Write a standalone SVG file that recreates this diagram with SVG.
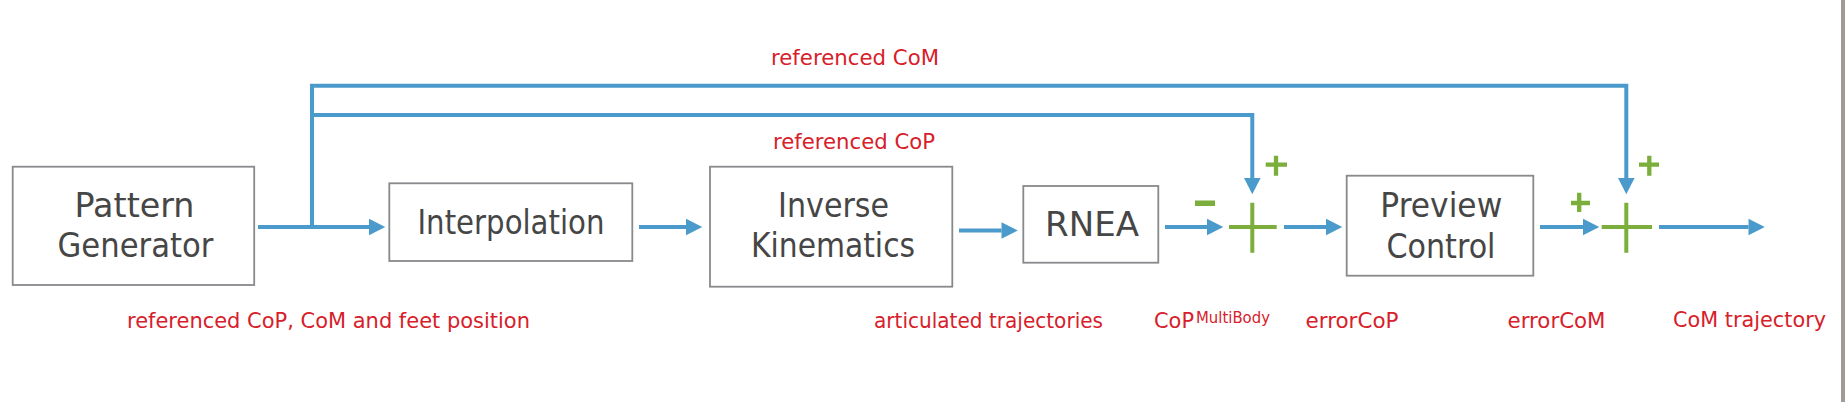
<svg xmlns="http://www.w3.org/2000/svg" width="1845" height="402" viewBox="0 0 1845 402">
<style>
.box{fill:#ffffff;stroke:#87898c;stroke-width:1.8}
.nt{font-family:"DejaVu Sans",sans-serif;font-size:33px;fill:#464646;text-anchor:middle}
.lb{font-family:"DejaVu Sans",sans-serif;font-size:22px;fill:#d7202a}
.sup{font-family:"DejaVu Sans",sans-serif;font-size:16px;fill:#d7202a}
.con{fill:none;stroke:#4a9bcb;stroke-width:4;stroke-linejoin:miter}
.sum{stroke:#7bae3a;stroke-width:4;fill:none}
.sgn{stroke:#7bae3a;stroke-width:4.3;fill:none}
</style>
<defs>
<marker id="ah" markerUnits="userSpaceOnUse" markerWidth="17" markerHeight="17" refX="0" refY="8.3" orient="auto" overflow="visible">
<path d="M0,0 L16.3,8.3 L0,16.6 Z" fill="#4a9bcb"/>
</marker>
</defs>
<rect width="1845" height="402" fill="#ffffff"/>
<rect x="1841" y="0" width="4" height="402" fill="#a09b96"/>

<g id="connectors">
<path class="con" d="M258,227 H369" marker-end="url(#ah)"/>
<path class="con" d="M312,227 V85.7 H1626.3 V178" marker-end="url(#ah)"/>
<path class="con" d="M312,115 H1252.3 V178" marker-end="url(#ah)"/>
<path class="con" d="M639,227 H686" marker-end="url(#ah)"/>
<path class="con" d="M959,230.5 H1001.5" marker-end="url(#ah)"/>
<path class="con" d="M1165,227 H1207" marker-end="url(#ah)"/>
<path class="con" d="M1284,227 H1326" marker-end="url(#ah)"/>
<path class="con" d="M1540,227 H1583" marker-end="url(#ah)"/>
<path class="con" d="M1659,227 H1748.5" marker-end="url(#ah)"/>
</g>

<g id="node-pattern-generator">
<rect class="box" x="12.7" y="166.7" width="241.5" height="118.3"/>
<text class="nt" x="134.5" y="216.7" textLength="120" lengthAdjust="spacingAndGlyphs">Pattern</text>
<text class="nt" x="135.5" y="256.7" textLength="156" lengthAdjust="spacingAndGlyphs">Generator</text>
</g>

<g id="node-interpolation">
<rect class="box" x="389.3" y="183.3" width="243" height="77.7"/>
<text class="nt" x="511" y="234" textLength="187" lengthAdjust="spacingAndGlyphs">Interpolation</text>
</g>

<g id="node-inverse-kinematics">
<rect class="box" x="710" y="166.7" width="242.3" height="120"/>
<text class="nt" x="833.6" y="216.7" textLength="111" lengthAdjust="spacingAndGlyphs">Inverse</text>
<text class="nt" x="833" y="257.3" textLength="164" lengthAdjust="spacingAndGlyphs">Kinematics</text>
</g>

<g id="node-rnea">
<rect class="box" x="1023.3" y="186" width="135" height="76.7"/>
<text class="nt" x="1092" y="235.7" textLength="94" lengthAdjust="spacingAndGlyphs">RNEA</text>
</g>

<g id="node-preview-control">
<rect class="box" x="1346.7" y="175.7" width="186.6" height="100"/>
<text class="nt" x="1441.3" y="216.7" textLength="122" lengthAdjust="spacingAndGlyphs">Preview</text>
<text class="nt" x="1441" y="258.3" textLength="109" lengthAdjust="spacingAndGlyphs">Control</text>
</g>

<g id="node-sum-cop">
<path class="sum" d="M1229,227 H1276.7 M1252.3,202.7 V252.7"/>
<rect x="1195" y="200.5" width="20" height="5.5" fill="#7bae3a"/>
<path class="sgn" d="M1265.7,164.7 H1287 M1276,155.7 V175.7"/>
</g>

<g id="node-sum-com">
<path class="sum" d="M1601.7,227 H1652 M1626.3,202.7 V252.7"/>
<path class="sgn" d="M1571,203 H1590 M1579.2,192.7 V212"/>
<path class="sgn" d="M1639,164.7 H1659 M1649.3,155.7 V175.7"/>
</g>

<g id="labels">
<text class="lb" x="771" y="65" textLength="168" lengthAdjust="spacingAndGlyphs">referenced CoM</text>
<text class="lb" x="773" y="149" textLength="162" lengthAdjust="spacingAndGlyphs">referenced CoP</text>
<text class="lb" x="127" y="328.3" textLength="403" lengthAdjust="spacingAndGlyphs">referenced CoP, CoM and feet position</text>
<text class="lb" x="874" y="328.3" textLength="229" lengthAdjust="spacingAndGlyphs">articulated trajectories</text>
<text class="lb" x="1154" y="328.3" textLength="40" lengthAdjust="spacingAndGlyphs">CoP</text>
<text class="sup" x="1196" y="323.3" textLength="74" lengthAdjust="spacingAndGlyphs">MultiBody</text>
<text class="lb" x="1305.5" y="328.3" textLength="93" lengthAdjust="spacingAndGlyphs">errorCoP</text>
<text class="lb" x="1507.5" y="328.3" textLength="98" lengthAdjust="spacingAndGlyphs">errorCoM</text>
<text class="lb" x="1673" y="326.7" textLength="153" lengthAdjust="spacingAndGlyphs">CoM trajectory</text>
</g>
</svg>
